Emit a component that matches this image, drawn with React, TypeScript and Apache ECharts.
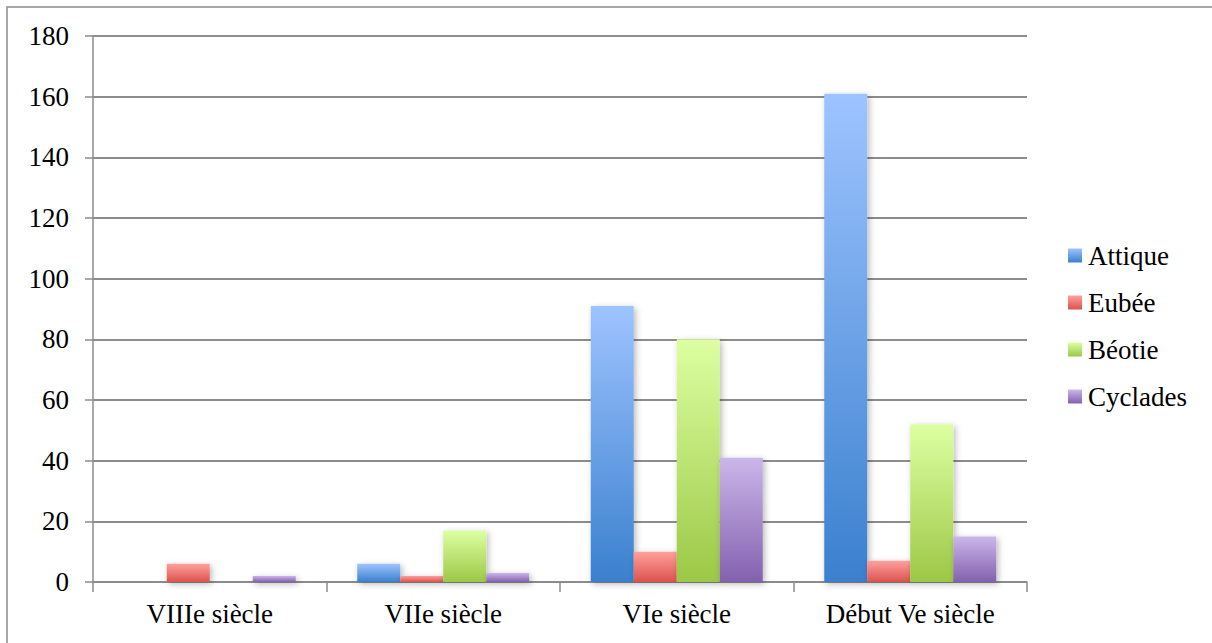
import React, { useEffect, useRef } from "react";
import * as echarts from "echarts";

const categories = ["VIIIe siècle", "VIIe siècle", "VIe siècle", "Début Ve siècle"];
const seriesNames = ["Attique", "Eubée", "Béotie", "Cyclades"];
const attique = [0, 6, 91, 161];
const eubee = [6, 2, 10, 7];
const beotie = [0, 17, 80, 52];
const cyclades = [2, 3, 41, 15];
const yTicks = { min: 0, max: 180, interval: 20 };

const gradients: [string, string][] = [
  ["#9EC4FF", "#3A80CE"],
  ["#FFA09C", "#DC524E"],
  ["#DDFFA2", "#9CC846"],
  ["#CBB6EA", "#8361AE"],
];

const FONT = "Liberation Serif";

export default function App() {
  const ref = useRef<HTMLDivElement>(null);
  useEffect(() => {
    document.body.style.margin = "0";
    const chart = echarts.init(ref.current!, null, { renderer: "svg" });
    const values = [attique, eubee, beotie, cyclades];
    const grad = (i: number) =>
      new echarts.graphic.LinearGradient(0, 0, 0, 1, [
        { offset: 0, color: gradients[i][0] },
        { offset: 1, color: gradients[i][1] },
      ]);
    chart.setOption({
      animation: false,
      backgroundColor: "#ffffff",
      textStyle: { fontFamily: FONT },
      graphic: [
        {
          type: "rect",
          shape: { x: 7, y: 7, width: 1230, height: 660 },
          style: { fill: "none", stroke: "#8c8c8c", lineWidth: 1.5 },
          silent: true,
          z: -10,
        },
      ],
      grid: { left: 93, top: 36, right: 185, bottom: 61, containLabel: false },
      legend: {
        orient: "vertical",
        left: 1063,
        top: 237,
        itemWidth: 14,
        itemHeight: 14,
        itemGap: 20,
        icon: "rect",
        textStyle: { fontFamily: FONT, fontSize: 27, color: "#000", padding: [0, 0, 0, 1] },
        data: seriesNames,
      },
      xAxis: {
        type: "category",
        data: categories,
        axisLine: { lineStyle: { color: "#8c8c8c", width: 1.5 } },
        axisTick: { show: true, length: 10, alignWithLabel: false, lineStyle: { color: "#8c8c8c", width: 1.5 } },
        axisLabel: { fontFamily: FONT, fontSize: 27, color: "#000", margin: 18 },
        splitLine: { show: false },
      },
      yAxis: {
        type: "value",
        min: yTicks.min,
        max: yTicks.max,
        interval: yTicks.interval,
        axisLine: { show: true, lineStyle: { color: "#8c8c8c", width: 1.5 } },
        axisTick: { show: true, length: 8, inside: false, lineStyle: { color: "#8c8c8c", width: 1.5 } },
        axisLabel: { fontFamily: FONT, fontSize: 27, color: "#000", margin: 24 },
        splitLine: { show: true, lineStyle: { color: "#8c8c8c", width: 2 } },
      },
      series: seriesNames.map((name, i) => ({
        name,
        type: "bar",
        data: values[i],
        barWidth: 43,
        barGap: "0%",
        z: 3,
        itemStyle: {
          color: grad(i),
          shadowColor: "rgba(0,0,0,0.28)",
          shadowBlur: 6,
          shadowOffsetX: 2,
          shadowOffsetY: 2,
        },
      })),
    });
    return () => chart.dispose();
  }, []);
  return <div ref={ref} style={{ width: 1212, height: 643 }} />;
}
